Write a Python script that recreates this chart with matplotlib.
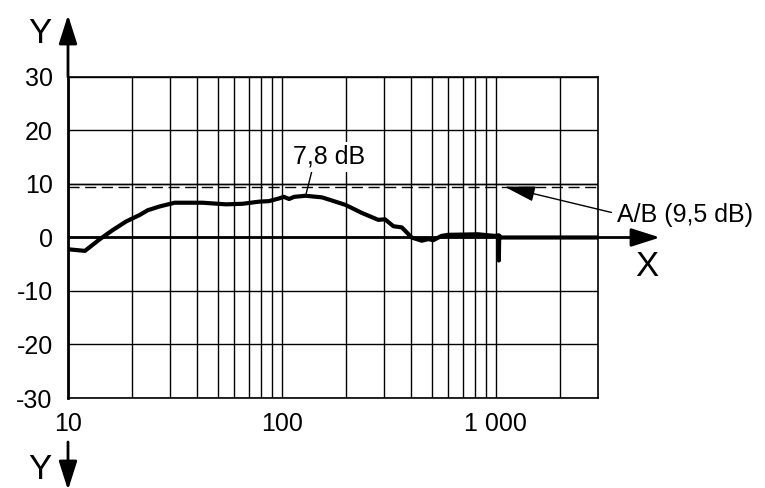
import matplotlib
matplotlib.use("Agg")
import matplotlib.pyplot as plt

plt.rcParams['font.family'] = ['Liberation Sans', 'DejaVu Sans']

# Data
freq = [10, 12, 14.1, 16.2, 18.7, 21.6, 23.6, 26.8, 31.5, 42.6, 54.7, 65.4, 78.2, 87,
        96.9, 102, 108, 114, 129, 154, 198, 236, 282, 303, 332, 363, 404, 450, 483,
        510, 557, 599, 825, 987, 1030, 1032, 1036, 1060, 3000]
level = [-2.2, -2.5, -0.3, 1.4, 3.0, 4.2, 5.1, 5.8, 6.5, 6.5, 6.2, 6.3, 6.7, 6.8,
         7.3, 7.6, 7.2, 7.6, 7.8, 7.5, 6.1, 4.6, 3.3, 3.4, 2.1, 1.9, 0.0, -0.6, -0.3,
         -0.5, 0.3, 0.5, 0.6, 0.3, 0.4, -4.3, 0.3, 0.0, 0.0]

x_major = [10, 100, 1000]
x_labels = ["10", "100", "1 000"]
x_minor = [20, 30, 40, 50, 60, 70, 80, 90, 200, 300, 400, 500, 600, 700, 800, 900, 2000]
y_ticks = [-30, -20, -10, 0, 10, 20, 30]
y_labels = ["-30", "-20", "-10", "0", "10", "20", "30"]

peak_f, peak_db = 129, 7.8
ab_level = 9.5
ab_ref = 10
ab_f = 1096

fig = plt.figure(figsize=(7.65, 4.88), dpi=100)
ax = fig.add_axes([68/765, 1-398/488, 530/765, 321/488])
ax.set_xscale('log')
ax.set_xlim(10, 3000)
ax.set_ylim(-30, 30)

ax.set_xticks(x_major)
ax.set_xticklabels(x_labels)
ax.set_xticks(x_minor, minor=True)
ax.set_xticklabels([], minor=True)
ax.set_yticks(y_ticks)
ax.set_yticklabels(y_labels)
ax.tick_params(which='both', length=0, labelsize=18)
ax.tick_params(axis='y', pad=11)
ax.tick_params(axis='x', pad=10)

ax.grid(True, which='both', color='black', lw=1.0)
for s in ['top', 'right', 'bottom']:
    ax.spines[s].set_linewidth(1.2)
ax.spines['left'].set_linewidth(2.0)

# reference lines
ax.axhline(ab_ref, color='black', lw=1.0, zorder=3)
ax.axhline(ab_level, color='black', lw=1.0, ls=(0, (8, 4)), zorder=3)
ax.axhline(0, color='black', lw=2.0, zorder=3)

ax.plot(freq, level, color='black', lw=3.0, solid_joinstyle='round', zorder=4)

# axis arrows
ap = dict(arrowstyle='-|>,head_length=1.1,head_width=0.35', color='black', lw=2.0,
          shrinkA=0, shrinkB=0, mutation_scale=16)
ax.annotate('', xy=(0, (398-15)/321), xytext=(0, 1), xycoords='axes fraction',
            arrowprops=ap, annotation_clip=False)
ax.annotate('', xy=(1.117, 0.5), xytext=(1, 0.5), xycoords='axes fraction',
            arrowprops=ap, annotation_clip=False)
ax.annotate('', xy=(0, (398-490)/321), xytext=(0, (398-442)/321), xycoords='axes fraction',
            arrowprops=ap, annotation_clip=False)

ax.text((40-68)/530, (398-43)/321, 'Y', transform=ax.transAxes, fontsize=25,
        ha='center', va='baseline')
ax.text((40-68)/530, (398-479)/321, 'Y', transform=ax.transAxes, fontsize=25,
        ha='center', va='baseline')
ax.text((647-68)/530, (398-276)/321, 'X', transform=ax.transAxes, fontsize=25,
        ha='center', va='baseline')

# peak annotation
ax.annotate(f"{peak_db:.1f} dB".replace('.', ','), xy=(peak_f, peak_db),
            xytext=(166, 15.1), textcoords='data', fontsize=18, ha='center', va='center',
            bbox=dict(boxstyle='square,pad=0.12', fc='white', ec='none'),
            arrowprops=dict(arrowstyle='-', color='black', lw=1.0, relpos=(0.27, 0),
                            shrinkA=0, shrinkB=0),
            zorder=5)

# A/B annotation
ax.annotate(f"A/B ({ab_level:.1f} dB)".replace('.', ','), xy=(ab_f, ab_level),
            xytext=((617-68)/530, (398-215)/321), textcoords='axes fraction',
            fontsize=18, ha='left', va='center', annotation_clip=False,
            arrowprops=dict(arrowstyle='-|>,head_length=1.2,head_width=0.3', color='black',
                            lw=1.0, relpos=(0, 0.55), shrinkA=2, shrinkB=0,
                            mutation_scale=16),
            zorder=5)

fig.savefig('out.png', dpi=100)
